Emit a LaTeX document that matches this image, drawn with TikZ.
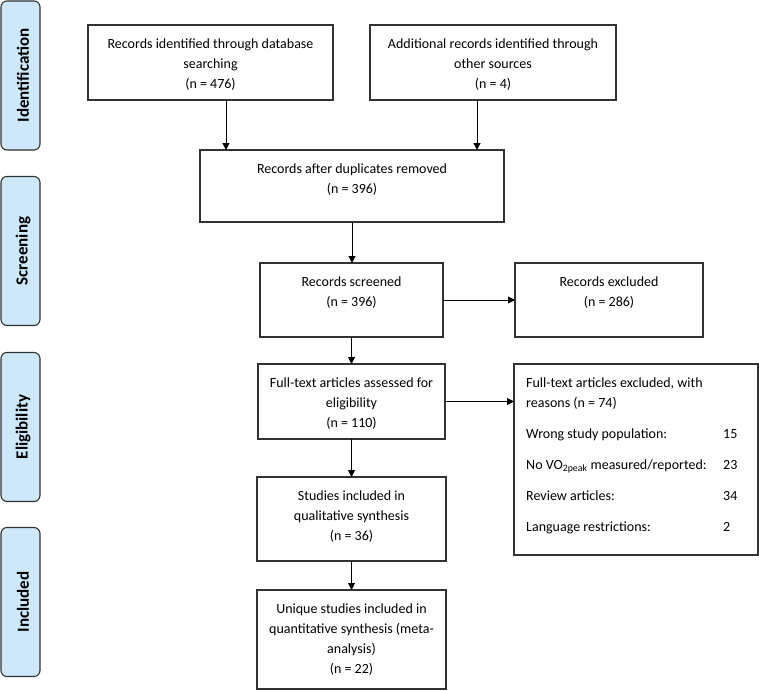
\documentclass[tikz,border=0pt]{standalone}
\usepackage{fontspec}
\setmainfont{Carlito}
\usetikzlibrary{positioning,arrows.meta}
\definecolor{phasefill}{RGB}{204,232,250}
\definecolor{boxline}{RGB}{50,50,50}

\begin{document}
\begin{tikzpicture}[x=1pt, y=-1pt,
    box/.style={draw=boxline, line width=1.1pt, inner sep=0pt, outer sep=0pt},
    txt/.style={inner sep=0pt, align=center, font=\fontsize{14}{20}\selectfont},
    phase/.style={draw=boxline, fill=phasefill, line width=1.1pt, rounded corners=6pt,
      rotate=90, minimum width=149, minimum height=39, inner sep=0pt,
      font=\bfseries\fontsize{17}{18}\selectfont},
    arr/.style={-{Triangle[length=7pt,width=7pt]}, line width=1pt, draw=black}]
    \useasboundingbox (0,0) rectangle (759,690);

    % phase labels
    \node[phase] (ident) at (20.5,75.5) {\raisebox{-2.5pt}[\height][\depth]{Identification}};
    \node[phase] (screen) at (20.5,251) {\raisebox{-2.5pt}[\height][\depth]{Screening}};
    \node[phase] (elig) at (20.5,427) {\raisebox{-2.5pt}[\height][\depth]{Eligibility}};
    \node[phase] (incl) at (20.5,602) {\raisebox{-2.5pt}[\height][\depth]{Included}};

    % identification
    \node[box, minimum width=245, minimum height=75] (db) at (210.5,62.5) {};
    \node[txt, below=13.5pt of db.north] (dbtxt) {Records identified through database\\searching\\(n = 476)};
    \node[box, minimum width=246, minimum height=75] (other) at (493,62.5) {};
    \node[txt, below=13.5pt of other.north] (othertxt) {Additional records identified through\\other sources\\(n = 4)};

    % screening
    \node[box, minimum width=304, minimum height=72] (dup) at (352,186) {};
    \node[txt, below=13.5pt of dup.north] (duptxt) {Records after duplicates removed\\(n = 396)};
    \node[box, minimum width=183, minimum height=74] (scr) at (351.5,300) {};
    \node[txt, below=13.5pt of scr.north] (scrtxt) {Records screened\\(n = 396)};
    \node[box, minimum width=188, minimum height=74] (excl) at (609,300) {};
    \node[txt, below=13.5pt of excl.north] (excltxt) {Records excluded\\(n = 286)};

    % eligibility
    \node[box, minimum width=187, minimum height=75] (full) at (351.5,401.5) {};
    \node[txt, below=13.5pt of full.north] (fulltxt) {Full-text articles assessed for\\eligibility\\(n = 110)};
    \node[box, minimum width=244, minimum height=191] (reasons) at (636,459.5) {};
    \node[inner sep=0pt, font=\fontsize{14}{20}\selectfont, below right=9.5pt and 12pt of reasons.north west] (reasonstxt) {%
      \begin{tabular}{@{}p{197pt}@{}l@{}}
        Full-text articles excluded, with & \\
        reasons (n = 74) & \\[11pt]
        Wrong study population: & 15\\[11pt]
        No VO\textsubscript{2peak} measured/reported: & 23\\[11pt]
        Review articles: & 34\\[11pt]
        Language restrictions: & 2
      \end{tabular}};

    % included
    \node[box, minimum width=189, minimum height=84] (qual) at (351.5,519) {};
    \node[txt, below=13.5pt of qual.north] (qualtxt) {Studies included in\\qualitative synthesis\\(n = 36)};
    \node[box, minimum width=189, minimum height=99] (quant) at (351.5,639.5) {};
    \node[txt, below=13.5pt of quant.north] (quanttxt) {Unique studies included in\\quantitative synthesis (meta-\\analysis)\\(n = 22)};

    % connectors
    \draw[arr] ([xshift=15.5pt]db.south) -- ([xshift=15.5pt]db.south |- dup.north);
    \draw[arr] ([xshift=-16pt]other.south) -- ([xshift=-16pt]other.south |- dup.north);
    \draw[arr] (dup.south) -- (dup.south |- scr.north);
    \draw[arr] (scr.east) -- (scr.east -| excl.west);
    \draw[arr] (scr.south) -- (scr.south |- full.north);
    \draw[arr] (full.east) -- (full.east -| reasons.west);
    \draw[arr] (full.south) -- (full.south |- qual.north);
    \draw[arr] (qual.south) -- (qual.south |- quant.north);
\end{tikzpicture}
\end{document}
